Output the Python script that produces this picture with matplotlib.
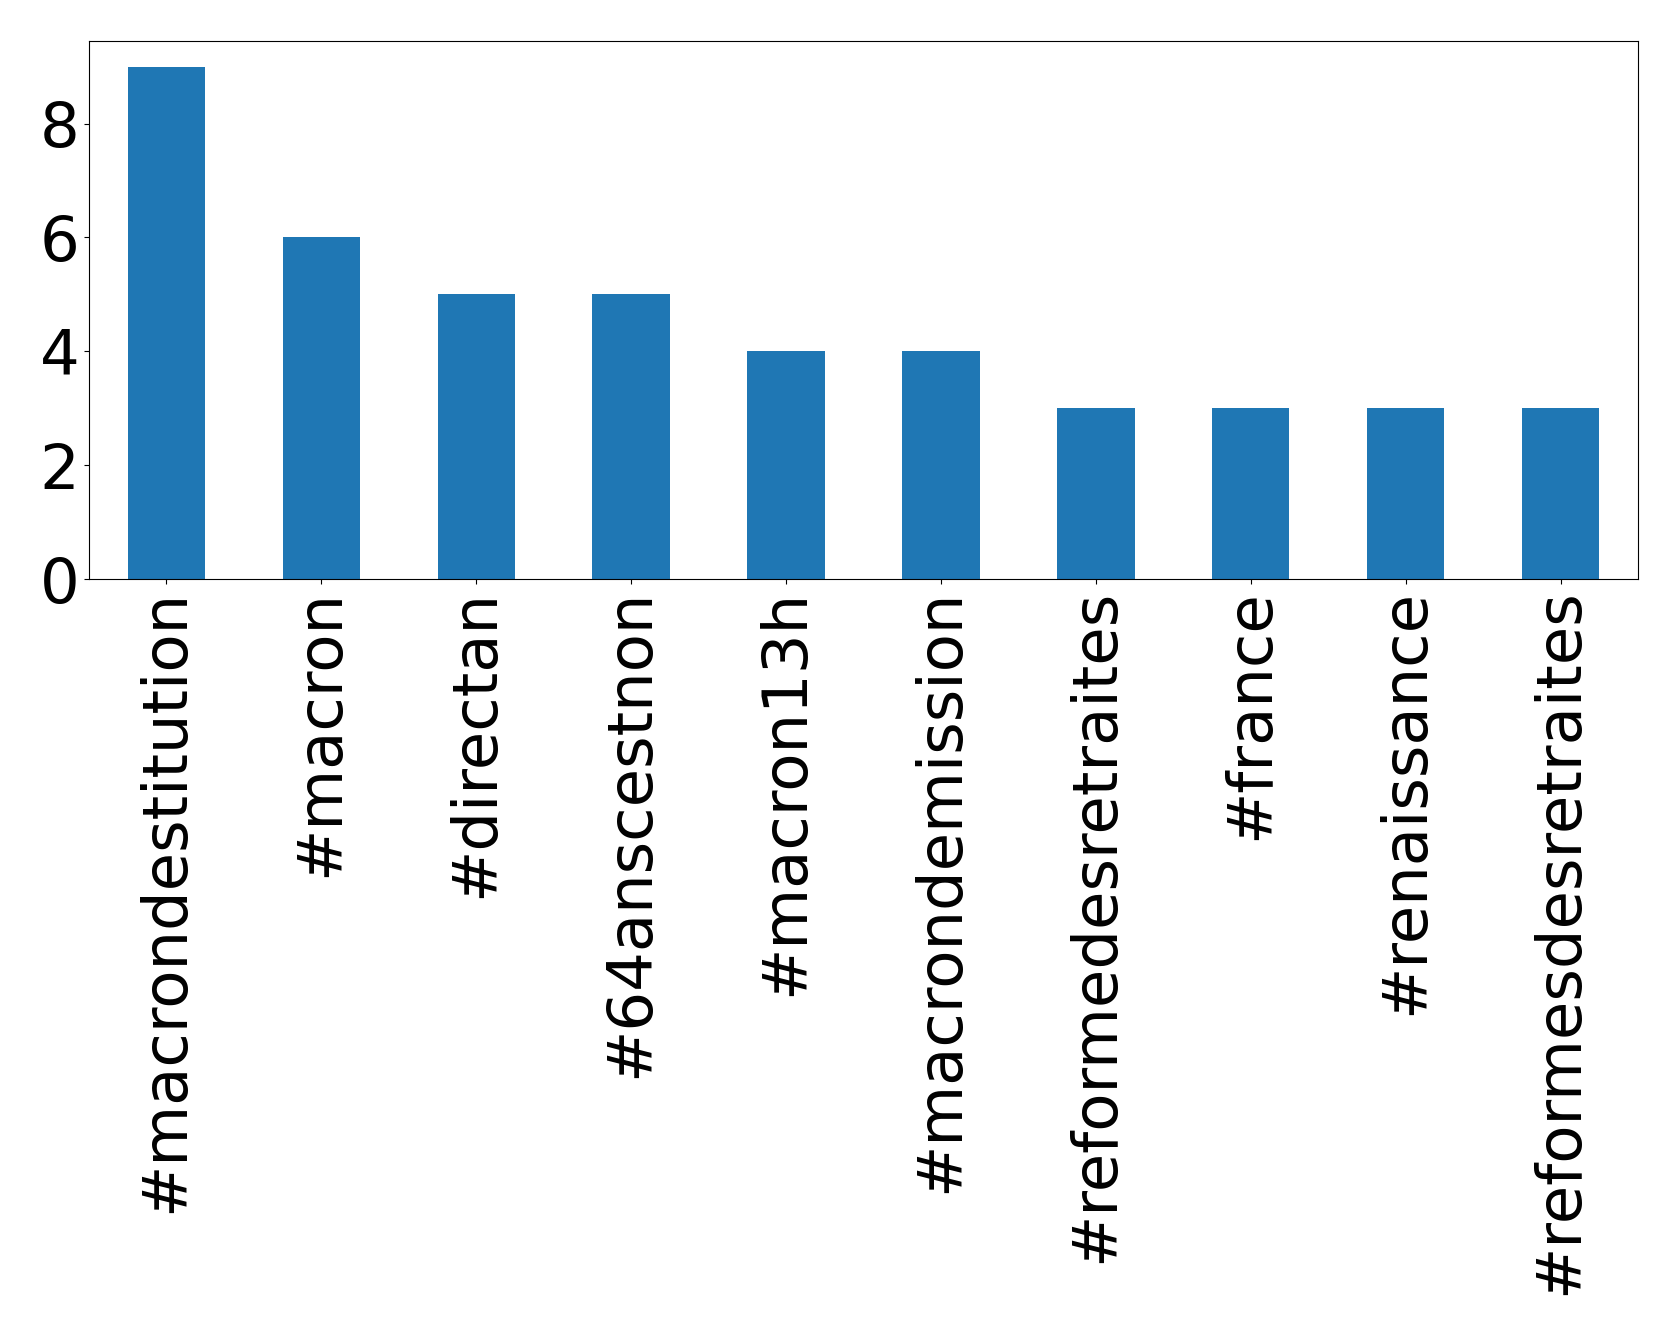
import matplotlib
matplotlib.use("Agg")
import matplotlib.pyplot as plt
import numpy as np

# hashtag counts
hashtags = ["#macrondestitution", "#macron", "#directan", "#64anscestnon",
            "#macron13h", "#macrondemission", "#reformedesretraites",
            "#france", "#renaissance", "#reformesdesretraites"]
counts = [9, 6, 5, 5, 4, 4, 3, 3, 3, 3]
yticks = [0, 2, 4, 6, 8]

fig = plt.figure(figsize=(16.79, 13.35), dpi=100)
ax = fig.add_axes([89 / 1679, 1 - 579 / 1335, (1638 - 89) / 1679, (579 - 41) / 1335])

x = np.arange(len(hashtags))
ax.bar(x, counts, width=0.5, color="#1f77b4")
ax.set_xlim(-0.5, len(hashtags) - 0.5)
ax.set_ylim(0, max(counts) * 1.05)
ax.set_yticks(yticks)
ax.set_xticks(x)
ax.set_xticklabels(hashtags, rotation=90)
ax.tick_params(labelsize=45)

fig.savefig("out.png", dpi=100)
